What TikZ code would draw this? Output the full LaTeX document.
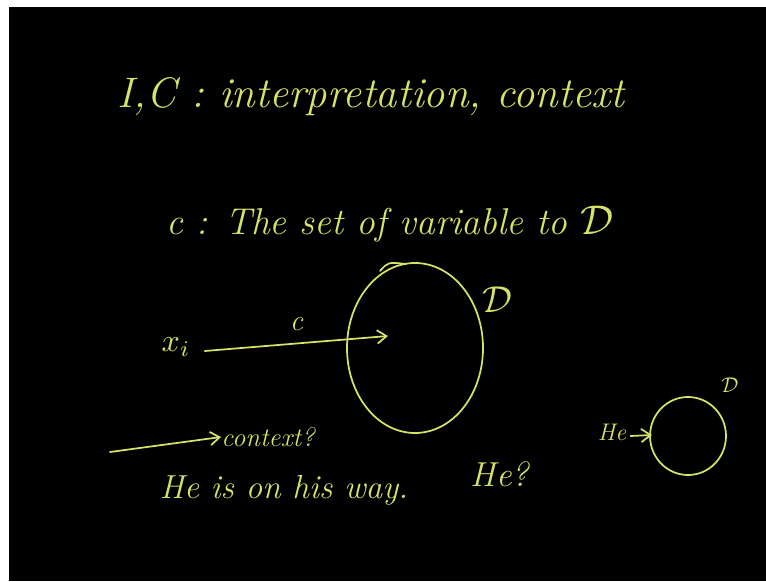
\documentclass[tikz,border=0pt]{standalone}
\usepackage{fontspec}
\usetikzlibrary{arrows.meta}
\definecolor{chalk}{RGB}{214,226,104}
\newcommand{\bigmath}[2]{\scalebox{#1}{$#2$}}
\begin{document}
\begin{tikzpicture}[x=0.75pt,y=-0.75pt,line cap=round,line join=round,>={Straight Barb[length=7pt,width=10pt]},
    chalkline/.style={draw=chalk,line width=1.3pt},
    hand/.style={text=chalk,inner sep=0pt}]
    \fill[white] (0,0) rectangle (766,581);
    \fill[black] (9,7) rectangle (766,581);
    \useasboundingbox (0,0) rectangle (766,581);
    % headings
    \node[hand,font=\fontsize{32}{38}\selectfont\itshape] (title) at (371,97) {I,C : interpretation, context};
    \node[hand,font=\fontsize{28}{34}\selectfont\itshape] (cdef) at (390,224) {c : The set of variable to \bigmath{1.25}{\mathcal{D}}};
    % domain D
    \draw[chalkline] (415,348) ellipse [x radius=68, y radius=85];
    \draw[chalkline] (380,271) .. controls (388,262) .. (406,264);
    \node[hand] (dlabel) at (497,300) {\bigmath{2.8}{\mathcal{D}}};
    \node[hand] (xi) at (176,347) {\bigmath{2.4}{x_i}};
    \coordinate (cend) at (388,336);
    \draw[chalkline,->] (xi.east)++(14,4) -- (cend) node[hand,midway,above=9pt,font=\fontsize{22}{26}\selectfont\itshape] (clabel) {c};
    % context
    \coordinate (cstart) at (110,452);
    \node[hand,font=\fontsize{20}{24}\selectfont\itshape] (context) at (268,437) {context?};
    \draw[chalkline,->] (cstart) -- (context.west);
    \node[hand,font=\fontsize{25}{30}\selectfont\itshape] (sentence) at (284,490) {He is on his way.};
    \node[hand,font=\fontsize{26}{30}\selectfont\itshape] (heq) at (500,474) {He?};
    % small domain
    \draw[chalkline] (688,436) ellipse [x radius=38, y radius=39];
    \coordinate (sdom) at (652,435);
    \node[hand,font=\fontsize{18}{22}\selectfont\itshape] (he) at (612,432) {He};
    \draw[chalkline,->] (he.east)++(4,4) -- (sdom);
    \node[hand] (sdlabel) at (730,385) {\bigmath{1.6}{\mathcal{D}}};
\end{tikzpicture}
\end{document}
